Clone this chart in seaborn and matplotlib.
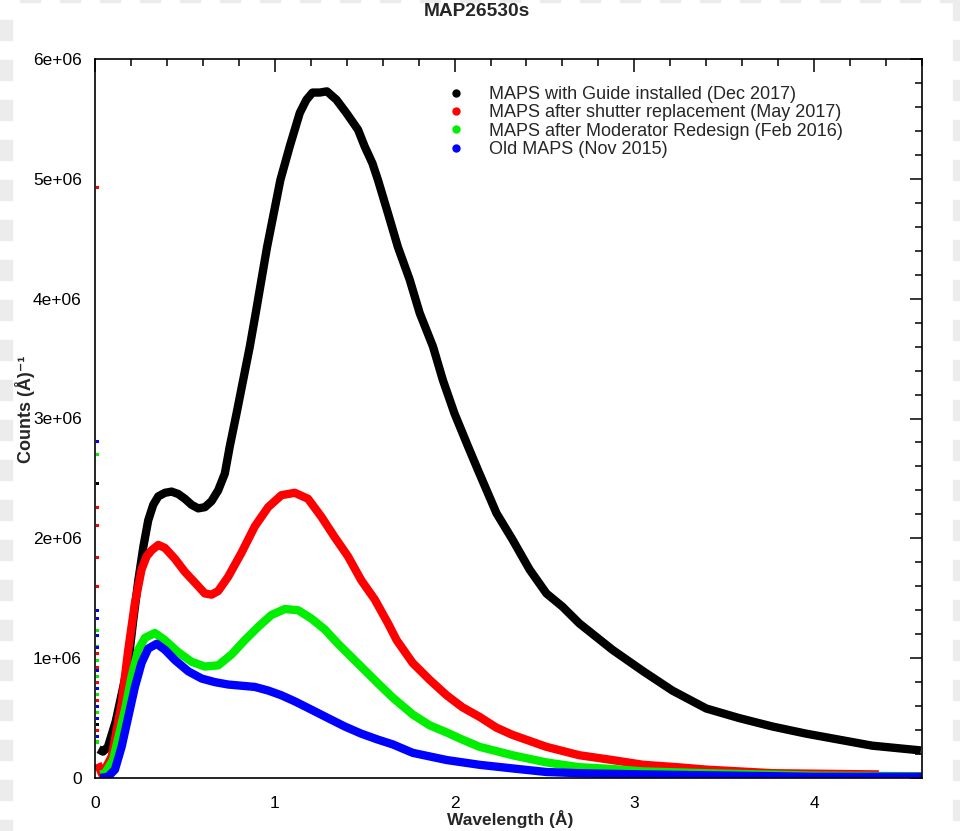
import numpy as np
import pandas as pd
import matplotlib
matplotlib.use("Agg")
import matplotlib.pyplot as plt
from matplotlib.lines import Line2D
from matplotlib.patches import Rectangle
from matplotlib.ticker import MultipleLocator, FuncFormatter
import seaborn as sns

# ---------------- data (y in units of 1e6 counts per Angstrom) ----------------
series_names = [
    "MAPS with Guide installed (Dec 2017)",
    "MAPS after shutter replacement (May 2017)",
    "MAPS after Moderator Redesign (Feb 2016)",
    "Old MAPS (Nov 2015)",
]
series_colors = ["#000000", "#ff0000", "#00ee00", "#0000ff"]

black_x = [0.02, 0.044, 0.072, 0.115, 0.157, 0.185, 0.213, 0.241, 0.269, 0.296, 0.324,
           0.352, 0.389, 0.426, 0.463, 0.5, 0.537, 0.574, 0.611, 0.648, 0.685, 0.722,
           0.75, 0.787, 0.824, 0.861, 0.894, 0.926, 0.957, 0.994, 1.031, 1.083, 1.111,
           1.139, 1.176, 1.21, 1.25, 1.29, 1.343, 1.398, 1.463, 1.5, 1.543, 1.574,
           1.63, 1.685, 1.75, 1.806, 1.88, 1.935, 2.0, 2.074, 2.13, 2.233, 2.322,
           2.417, 2.511, 2.6, 2.694, 2.878, 3.05, 3.211, 3.4, 3.583, 3.767, 3.956,
           4.139, 4.322, 4.594]
black_y = [0.24, 0.22, 0.26, 0.47, 0.76, 0.96, 1.32, 1.65, 1.93, 2.15, 2.28,
           2.35, 2.38, 2.39, 2.37, 2.33, 2.28, 2.25, 2.26, 2.31, 2.40, 2.54,
           2.77, 3.04, 3.32, 3.60, 3.88, 4.16, 4.43, 4.71, 4.99, 5.27, 5.41,
           5.55, 5.66, 5.72, 5.72, 5.73, 5.66, 5.55, 5.41, 5.27, 5.13, 4.99,
           4.71, 4.43, 4.16, 3.88, 3.60, 3.32, 3.04, 2.77, 2.57, 2.21, 1.99,
           1.74, 1.54, 1.43, 1.29, 1.07, 0.89, 0.73, 0.58, 0.50, 0.43, 0.37,
           0.32, 0.27, 0.23]

red_x = [0.015, 0.04, 0.093, 0.148, 0.185, 0.222, 0.259, 0.287, 0.315, 0.352, 0.389,
         0.444, 0.5, 0.556, 0.611, 0.648, 0.685, 0.741, 0.815, 0.889, 0.963, 1.037,
         1.111, 1.185, 1.259, 1.333, 1.407, 1.481, 1.556, 1.63, 1.678, 1.767, 1.861,
         1.956, 2.044, 2.139, 2.233, 2.322, 2.511, 2.694, 2.878, 3.05, 3.24, 3.4,
         3.77, 4.36]
red_y = [0.12, 0.03, 0.18, 0.62, 1.07, 1.46, 1.74, 1.85, 1.90, 1.945, 1.92,
         1.83, 1.72, 1.63, 1.54, 1.53, 1.56, 1.68, 1.88, 2.10, 2.26, 2.36,
         2.38, 2.33, 2.18, 2.01, 1.85, 1.65, 1.49, 1.29, 1.15, 0.96, 0.82,
         0.69, 0.59, 0.51, 0.42, 0.36, 0.26, 0.19, 0.15, 0.11, 0.09, 0.07,
         0.04, 0.03]

green_x = [0.03, 0.056, 0.1, 0.167, 0.204, 0.241, 0.278, 0.333, 0.389, 0.463, 0.537,
           0.611, 0.685, 0.759, 0.833, 0.907, 0.981, 1.056, 1.13, 1.204, 1.278,
           1.352, 1.426, 1.5, 1.574, 1.657, 1.767, 1.861, 1.956, 2.044, 2.139,
           2.322, 2.511, 2.694, 2.878, 3.05, 3.4, 4.0, 4.6]
green_y = [0.03, 0.04, 0.15, 0.57, 0.85, 1.07, 1.17, 1.21, 1.15, 1.05, 0.97,
           0.93, 0.94, 1.03, 1.15, 1.26, 1.36, 1.41, 1.40, 1.33, 1.24,
           1.12, 1.01, 0.90, 0.79, 0.67, 0.53, 0.44, 0.38, 0.32, 0.26,
           0.19, 0.13, 0.09, 0.075, 0.055, 0.04, 0.02, 0.015]

blue_x = [0.03, 0.072, 0.111, 0.148, 0.185, 0.222, 0.259, 0.296, 0.343, 0.389, 0.444,
          0.519, 0.593, 0.667, 0.741, 0.815, 0.889, 0.963, 1.037, 1.111, 1.204,
          1.296, 1.389, 1.481, 1.574, 1.657, 1.767, 1.956, 2.139, 2.322, 2.511,
          2.694, 3.05, 4.0, 4.6]
blue_y = [0.0, 0.01, 0.07, 0.26, 0.51, 0.76, 0.96, 1.08, 1.12, 1.07, 0.985,
          0.89, 0.83, 0.80, 0.78, 0.77, 0.76, 0.73, 0.69, 0.64, 0.57,
          0.50, 0.43, 0.37, 0.32, 0.28, 0.21, 0.15, 0.11, 0.08, 0.05,
          0.04, 0.03, 0.01, 0.01]

# isolated short-wavelength outlier points (x ~ 0.012 A)
spike_x = 0.012
black_spikes = [2.46, 0.85, 0.70, 0.55, 0.45]
red_spikes = [4.93, 2.26, 2.11, 1.84, 1.60, 1.04, 0.92, 0.80, 0.65, 0.40]
green_spikes = [2.70, 1.23, 1.10, 0.98, 0.85, 0.70, 0.55, 0.30]
blue_spikes = [2.81, 1.40, 1.33, 1.19, 1.09, 0.90, 0.75, 0.60, 0.50, 0.35]

x_ticks = [0, 1, 2, 3, 4]
y_ticks = [0, 1e6, 2e6, 3e6, 4e6, 5e6, 6e6]

# ---------------- build tables ----------------
curves = pd.concat([
    pd.DataFrame({"x": xs, "y": np.array(ys) * 1e6, "series": name})
    for name, xs, ys in zip(series_names,
                            [black_x, red_x, green_x, blue_x],
                            [black_y, red_y, green_y, blue_y])
], ignore_index=True)
spikes = pd.concat([
    pd.DataFrame({"x": spike_x, "y": np.array(v) * 1e6, "series": name})
    for name, v in zip(series_names, [black_spikes, red_spikes, green_spikes, blue_spikes])
], ignore_index=True)

# ---------------- style ----------------
sns.set_style("white")
plt.rcParams["font.family"] = ["Liberation Sans", "DejaVu Sans"]

fig = plt.figure(figsize=(9.6, 8.31), dpi=100, facecolor="white")
W, H = 960, 831

# light checkerboard fragments at the figure borders
gray = "#ececec"
for j in range(0, 42):
    y0 = j * 20
    h = min(20, H - y0)
    if j % 2 == 1:   # left column
        fig.patches.append(Rectangle((0, (H - y0 - h) / H), 12 / W, h / H,
                                     transform=fig.transFigure, color=gray, zorder=0))
    else:            # right column
        fig.patches.append(Rectangle((953 / W, (H - y0 - h) / H), 7 / W, h / H,
                                     transform=fig.transFigure, color=gray, zorder=0))
for i in range(0, 48):
    if i % 2 == 1:
        fig.patches.append(Rectangle((i * 20 / W, (H - 2) / H), 20 / W, 2 / H,
                                     transform=fig.transFigure, color=gray, zorder=0))

ax = fig.add_axes([95 / W, 1 - 778 / H, (922 - 95) / W, (778 - 59) / H])

palette = dict(zip(series_names, series_colors))
sns.lineplot(data=curves, x="x", y="y", hue="series", palette=palette,
             hue_order=series_names, sort=False, estimator=None,
             linewidth=6, legend=False, ax=ax)
for ln in ax.get_lines():
    ln.set_solid_joinstyle("round")
    ln.set_solid_capstyle("butt")
sns.scatterplot(data=spikes, x="x", y="y", hue="series", palette=palette,
                hue_order=series_names, marker="s", s=5, linewidth=0,
                legend=False, ax=ax)

ax.set_xlim(0, 4.6)
ax.set_ylim(0, 6e6)
ax.set_xticks(x_ticks)
ax.set_yticks(y_ticks)
ax.xaxis.set_minor_locator(MultipleLocator(0.2))
ax.yaxis.set_minor_locator(MultipleLocator(2e5))
ax.yaxis.set_major_formatter(FuncFormatter(lambda v, p: "0" if v == 0 else f"{v:.0e}"))
ax.xaxis.set_major_formatter(FuncFormatter(lambda v, p: f"{v:g}"))

ax.tick_params(which="both", direction="in", top=True, right=True, color="black",
               width=1.1, labelsize=12.5, labelcolor="black")
ax.tick_params(which="major", length=9)
ax.tick_params(which="minor", length=5)
ax.tick_params(axis="y", which="major", pad=9.5)
ax.tick_params(axis="x", which="major", pad=13)
for s in ax.spines.values():
    s.set_color("black")
    s.set_linewidth(1.2)

ax.set_xlabel("Wavelength (Å)", fontsize=12.5, fontweight="bold")
ax.set_ylabel("Counts (Å)⁻¹", fontsize=13, fontweight="bold",
              family=["Liberation Sans", "DejaVu Sans"])
ax.xaxis.set_label_coords(0.502, -0.044)
ax.yaxis.set_label_coords(-0.073, 0.513)

fig.text(477 / W, 1 - 12 / H, "MAP26530s", ha="center", va="center",
         fontsize=13.8, fontweight="bold")

handles = [Line2D([], [], linestyle="none", marker="o", markersize=5,
                  markerfacecolor=c, markeredgecolor=c) for c in series_colors]
ax.legend(handles, series_names, loc="upper left",
          bbox_to_anchor=((447 - 95) / 827, (778 - 86) / 719),
          frameon=False, fontsize=13, borderpad=0, borderaxespad=0,
          handlelength=1.0, handletextpad=1.3, labelspacing=0.075)

fig.savefig("out.png", dpi=100, facecolor="white")
